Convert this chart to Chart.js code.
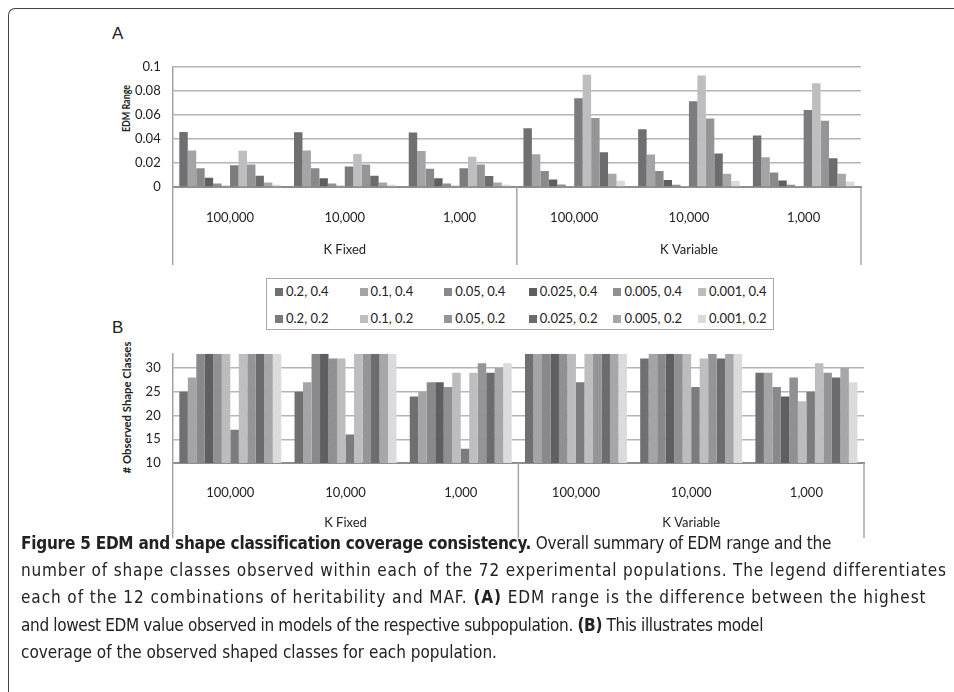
<!DOCTYPE html>
<html>
<head>
<meta charset="utf-8">
<script src="https://cdn.jsdelivr.net/npm/chart.js@4/dist/chart.umd.min.js"></script>
<style>
  html, body { margin: 0; padding: 0; background: #fff; }
  body { width: 954px; height: 692px; position: relative; overflow: hidden; font-family: Lato, "Open Sans", sans-serif; color: #222; }
  .frame { position: absolute; left: 8px; top: 8px; width: 980px; height: 720px;
           border-top: 1.5px solid #444; border-left: 1.5px solid #444; border-top-left-radius: 7px; }
  .panel { position: absolute; font-family: "Liberation Sans", Arial, sans-serif; font-size: 17px; color: #222; }
  .ytitle { position: absolute; font-weight: bold; font-size: 11px; white-space: nowrap; color: #222; line-height: 13px; }
  .cv { position: absolute; }
  .legend { position: absolute; left: 266px; top: 278px; width: 508px; height: 52px;
            border: 1.5px solid #a8a8a8; box-sizing: border-box; }
  .legend .item { position: absolute; font-size: 13px; white-space: nowrap; line-height: 14px; color: #222; }
  .legend .sw { display: inline-block; width: 8px; height: 8px; margin-right: 3px; vertical-align: 0px; }
  .caption { position: absolute; left: 21px; top: 530px; font-family: "Liberation Sans Narrow", "DejaVu Sans Condensed", sans-serif;
             font-size: 17px; line-height: 27.2px; color: #222; white-space: nowrap; }
  .caption div span.line { display: inline-block; }
  .caption b { font-weight: bold; }
</style>
</head>
<body>
<div class="frame"></div>
<div class="panel" style="left:112px; top:24px;">A</div>
<div class="panel" style="left:112px; top:318px;">B</div>
<div class="ytitle" id="titleA" data-cx="125" data-cy="108" data-len="47">EDM Range</div>
<div class="ytitle" id="titleB" data-cx="127" data-cy="407" data-len="132"># Observed Shape Classes</div>
<canvas id="chartA" class="cv" style="left:100px; top:47px;" width="765" height="221"></canvas>
<div class="legend" id="legend"></div>
<canvas id="chartB" class="cv" style="left:100px; top:334px;" width="768" height="207"></canvas>
<div class="caption" id="caption">
  <div><span class="line" data-w="810"><b>Figure 5 EDM and shape classification coverage consistency.</b> Overall summary of EDM range and the</span></div>
  <div><span class="line" data-w="926">number of shape classes observed within each of the 72 experimental populations. The legend differentiates</span></div>
  <div><span class="line" data-w="905">each of the 12 combinations of heritability and MAF. <b>(A)</b> EDM range is the difference between the highest</span></div>
  <div><span class="line" data-w="742">and lowest EDM value observed in models of the respective subpopulation. <b>(B)</b> This illustrates model</span></div>
  <div><span class="line">coverage of the observed shaped classes for each population.</span></div>
</div>
<script>
// Population groups and sizes along the x axis
const groupLabels = ['K Fixed', 'K Variable'];
const sizeLabels = ['100,000', '10,000', '1,000', '100,000', '10,000', '1,000'];

// Heritability / MAF combinations (one series each)
const seriesNames = ['0.2, 0.4', '0.1, 0.4', '0.05, 0.4', '0.025, 0.4', '0.005, 0.4', '0.001, 0.4',
                     '0.2, 0.2', '0.1, 0.2', '0.05, 0.2', '0.025, 0.2', '0.005, 0.2', '0.001, 0.2'];

// EDM range per series, one value per population
const edm_02_04   = [0.0458, 0.0455, 0.0453, 0.0488, 0.0480, 0.0428];
const edm_01_04   = [0.0304, 0.0303, 0.0300, 0.0273, 0.0270, 0.0247];
const edm_005_04  = [0.0155, 0.0155, 0.0152, 0.0134, 0.0134, 0.0121];
const edm_0025_04 = [0.0076, 0.0073, 0.0073, 0.0063, 0.0058, 0.0055];
const edm_0005_04 = [0.0029, 0.0029, 0.0029, 0.0021, 0.0018, 0.0018];
const edm_0001_04 = [0.0013, 0.0013, 0.0013, 0.0008, 0.0005, 0.0005];
const edm_02_02   = [0.0181, 0.0170, 0.0155, 0.0738, 0.0714, 0.0640];
const edm_01_02   = [0.0301, 0.0275, 0.0251, 0.0934, 0.0927, 0.0864];
const edm_005_02  = [0.0188, 0.0188, 0.0188, 0.0575, 0.0570, 0.0551];
const edm_0025_02 = [0.0094, 0.0094, 0.0092, 0.0289, 0.0278, 0.0239];
const edm_0005_02 = [0.0037, 0.0037, 0.0037, 0.0110, 0.0110, 0.0110];
const edm_0001_02 = [0.0018, 0.0018, 0.0018, 0.0052, 0.0050, 0.0045];

// Number of observed shape classes per series
const shp_02_04   = [25, 25, 24, 33, 32, 29];
const shp_01_04   = [28, 27, 25, 33, 33, 29];
const shp_005_04  = [33, 33, 27, 33, 33, 26];
const shp_0025_04 = [33, 33, 27, 33, 33, 24];
const shp_0005_04 = [33, 32, 26, 33, 33, 28];
const shp_0001_04 = [33, 32, 29, 33, 33, 23];
const shp_02_02   = [17, 16, 13, 27, 26, 25];
const shp_01_02   = [33, 33, 29, 33, 32, 31];
const shp_005_02  = [33, 33, 31, 33, 33, 29];
const shp_0025_02 = [33, 33, 29, 33, 32, 28];
const shp_0005_02 = [33, 33, 30, 33, 33, 30];
const shp_0001_02 = [33, 33, 31, 33, 33, 27];

// Axis tick values
const edmTicks = [0, 0.02, 0.04, 0.06, 0.08, 0.1];
const shapeTicks = [10, 15, 20, 25, 30];
const shapeMax = 33;

const edmSeries = [edm_02_04, edm_01_04, edm_005_04, edm_0025_04, edm_0005_04, edm_0001_04,
                   edm_02_02, edm_01_02, edm_005_02, edm_0025_02, edm_0005_02, edm_0001_02];
const shapeSeries = [shp_02_04, shp_01_04, shp_005_04, shp_0025_04, shp_0005_04, shp_0001_04,
                     shp_02_02, shp_01_02, shp_005_02, shp_0025_02, shp_0005_02, shp_0001_02];

// Grey palette for the twelve series
const palette = ['#707073', '#a4a4a6', '#89898c', '#5f5f62', '#909093', '#bcbcbe',
                 '#7c7c7f', '#bebec0', '#959598', '#6c6c6f', '#a7a7a9', '#dbdbdd'];

const tickFont = { family: 'Lato', size: 13 };
const catFont = { family: 'Lato', size: 13 };

// Vertical separators below the plot: outer edges and between the two groups
const separators = {
  id: 'separators',
  afterDraw(chart) {
    const g = chart.scales.x2;
    const ctx = chart.ctx;
    const mid = (g.getPixelForValue(0) + g.getPixelForValue(1)) / 2;
    ctx.save();
    ctx.strokeStyle = '#a6a6a6';
    ctx.lineWidth = 1.5;
    [chart.chartArea.left, mid, chart.chartArea.right].forEach(px => {
      ctx.beginPath();
      ctx.moveTo(px, chart.chartArea.bottom);
      ctx.lineTo(px, g.bottom);
      ctx.stroke();
    });
    ctx.restore();
  }
};

function makeChart(id, series, yopts, xh, x2h, xpad, x2pad, rightPad) {
  return new Chart(document.getElementById(id), {
    type: 'bar',
    data: {
      labels: sizeLabels,
      datasets: series.map((vals, i) => ({
        label: seriesNames[i],
        data: vals,
        backgroundColor: palette[i],
        borderWidth: 0,
        categoryPercentage: 0.885,
        barPercentage: 1.0
      }))
    },
    options: {
      responsive: false,
      animation: false,
      layout: { padding: { top: 12, right: rightPad, bottom: 3, left: 0 } },
      plugins: { legend: { display: false }, tooltip: { enabled: false } },
      scales: {
        x: {
          type: 'category',
          position: 'bottom',
          grid: { display: false, drawTicks: false },
          border: { display: true, color: '#8e8e8e', width: 2 },
          ticks: { font: catFont, color: '#222', padding: xpad, maxRotation: 0, autoSkip: false },
          afterFit(s) { s.height = xh; }
        },
        x2: {
          type: 'category',
          position: 'bottom',
          labels: groupLabels,
          offset: true,
          grid: { display: false, drawTicks: false },
          border: { display: false },
          ticks: { font: catFont, color: '#222', padding: x2pad, maxRotation: 0 },
          afterFit(s) { s.height = x2h; }
        },
        y: Object.assign({
          grid: { color: '#b5b5b5', lineWidth: 1.5, drawTicks: false },
          border: { display: true, color: '#a3a3a3', width: 1.5 },
          afterFit(s) { s.width = 72.7; }
        }, yopts)
      }
    },
    plugins: [separators]
  });
}

makeChart('chartA', edmSeries, {
  min: edmTicks[0],
  max: edmTicks[edmTicks.length - 1],
  ticks: { stepSize: edmTicks[1] - edmTicks[0], font: tickFont, color: '#222', padding: 12,
           callback: v => String(+v.toFixed(3)) }
}, 46, 32, 23.2, 9.2, 4);

makeChart('chartB', shapeSeries, {
  min: shapeTicks[0],
  max: shapeMax,
  ticks: { stepSize: shapeTicks[1] - shapeTicks[0], includeBounds: false, font: tickFont, color: '#222', padding: 12 }
}, 45, 30, 22.2, 7.2, 4);

// Legend: two rows of six entries
const legend = document.getElementById('legend');
seriesNames.forEach((name, i) => {
  const el = document.createElement('div');
  el.className = 'item';
  const col = i % 6, row = Math.floor(i / 6);
  el.style.left = (8 + col * 84.6) + 'px';
  el.style.top = (5 + row * 27) + 'px';
  el.innerHTML = '<span class="sw" style="background:' + palette[i] + '"></span>' + name;
  legend.appendChild(el);
});

// Rotated axis titles, centred on their anchor and squeezed to length
document.querySelectorAll('.ytitle').forEach(el => {
  const w = el.offsetWidth, h = el.offsetHeight;
  const sx = (+el.dataset.len) / w;
  el.style.left = (+el.dataset.cx - w / 2) + 'px';
  el.style.top = (+el.dataset.cy - h / 2) + 'px';
  el.style.transform = 'rotate(-90deg) scaleX(' + sx + ')';
});

// Caption lines: adjust tracking so each line spans its width
document.querySelectorAll('#caption .line').forEach(el => {
  if (!el.dataset.w) return;
  const chars = el.textContent.length;
  const extra = (+el.dataset.w - el.offsetWidth) / chars;
  el.style.letterSpacing = extra + 'px';
});
</script>
</body>
</html>
